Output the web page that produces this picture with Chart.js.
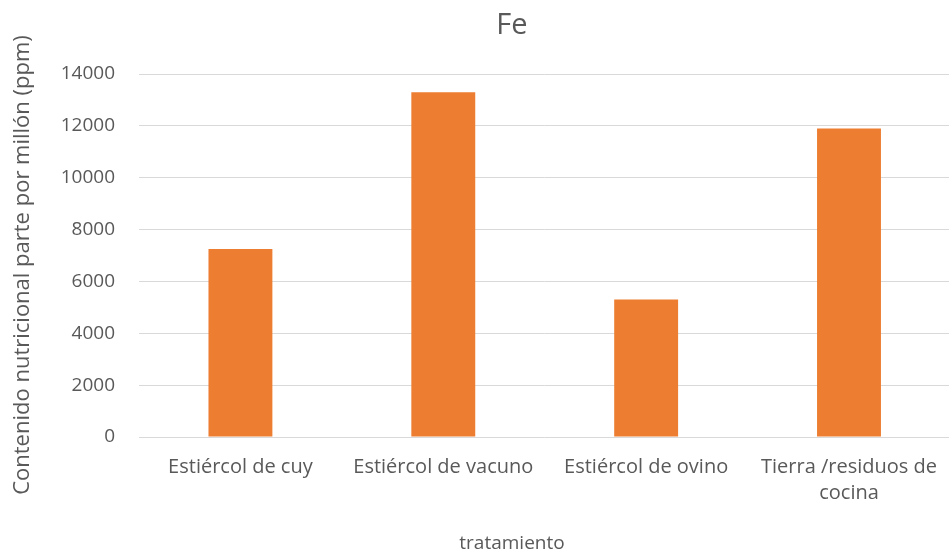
<!DOCTYPE html>
<html>
<head>
<meta charset="utf-8">
<script src="https://cdn.jsdelivr.net/npm/chart.js@4/dist/chart.umd.min.js"></script>
<style>
    html, body { margin: 0; padding: 0; background: #ffffff; overflow: hidden; }
    #wrap { width: 954px; height: 560px; }
</style>
</head>
<body>
<div id="wrap"><canvas id="grafico" width="954" height="560"></canvas></div>
<script>
// === DATI DEL GRAFICO ===
const TITULO = "Fe";
const TITULO_X = "tratamiento";
const TITULO_Y = "Contenido nutricional parte por millón (ppm)";

const categorias = [
    "Estiércol de cuy",
    "Estiércol de vacuno",
    "Estiércol de ovino",
    ["Tierra /residuos de", "cocina"]
];
const valoresFe = [7250, 13300, 5300, 11900];
const ticksY = [0, 2000, 4000, 6000, 8000, 10000, 12000, 14000];

// === STILI ===
const COLOR_BARRA = "#ED7D31";
const COLOR_TEXTO = "#595959";
const COLOR_GRIGLIA = "#d9d9d9";
const FUENTE = '"Open Sans", "Noto Sans", sans-serif';

// titoli fissi (centrati sul grafico originale, più largo dell'immagine)
const textosFijos = {
    id: "textosFijos",
    afterDraw(chart) {
        const ctx = chart.ctx;
        ctx.save();
        ctx.fillStyle = COLOR_TEXTO;
        ctx.textAlign = "center";
        ctx.textBaseline = "middle";
        ctx.font = "29px " + FUENTE;
        ctx.fillText(TITULO, 512, 26);
        ctx.font = "19px " + FUENTE;
        ctx.fillText(TITULO_X, 512, 544);
        ctx.font = "22px " + FUENTE;
        ctx.translate(23, 265);
        ctx.rotate(-Math.PI / 2);
        ctx.fillText(TITULO_Y, 0, 0);
        ctx.restore();
    }
};

new Chart(document.getElementById("grafico").getContext("2d"), {
    type: "bar",
    data: {
        labels: categorias,
        datasets: [{
            label: TITULO,
            data: valoresFe,
            backgroundColor: COLOR_BARRA,
            borderWidth: 0,
            barPercentage: 0.315,
            categoryPercentage: 1.0
        }]
    },
    options: {
        responsive: false,
        animation: false,
        layout: { padding: { top: 74, right: 0, bottom: 0, left: 0 } },
        plugins: {
            legend: { display: false },
            title: { display: false },
            tooltip: { enabled: false }
        },
        scales: {
            x: {
                grid: { display: false, drawTicks: false },
                border: { display: false },
                ticks: {
                    color: COLOR_TEXTO,
                    font: { family: FUENTE, size: 20, lineHeight: 1.3 },
                    padding: 17,
                    maxRotation: 0,
                    autoSkip: false
                },
                afterFit: (scale) => { scale.height = 123; }
            },
            y: {
                min: 0,
                max: 14000,
                afterBuildTicks: (scale) => { scale.ticks = ticksY.map(v => ({ value: v })); },
                grid: { color: COLOR_GRIGLIA, lineWidth: 1, drawTicks: false },
                border: { display: false },
                ticks: {
                    color: COLOR_TEXTO,
                    font: { family: FUENTE, size: 19 },
                    padding: 24,
                    callback: (v) => String(v)
                },
                afterFit: (scale) => { scale.width = 139; }
            }
        }
    },
    plugins: [textosFijos]
});
</script>
</body>
</html>
